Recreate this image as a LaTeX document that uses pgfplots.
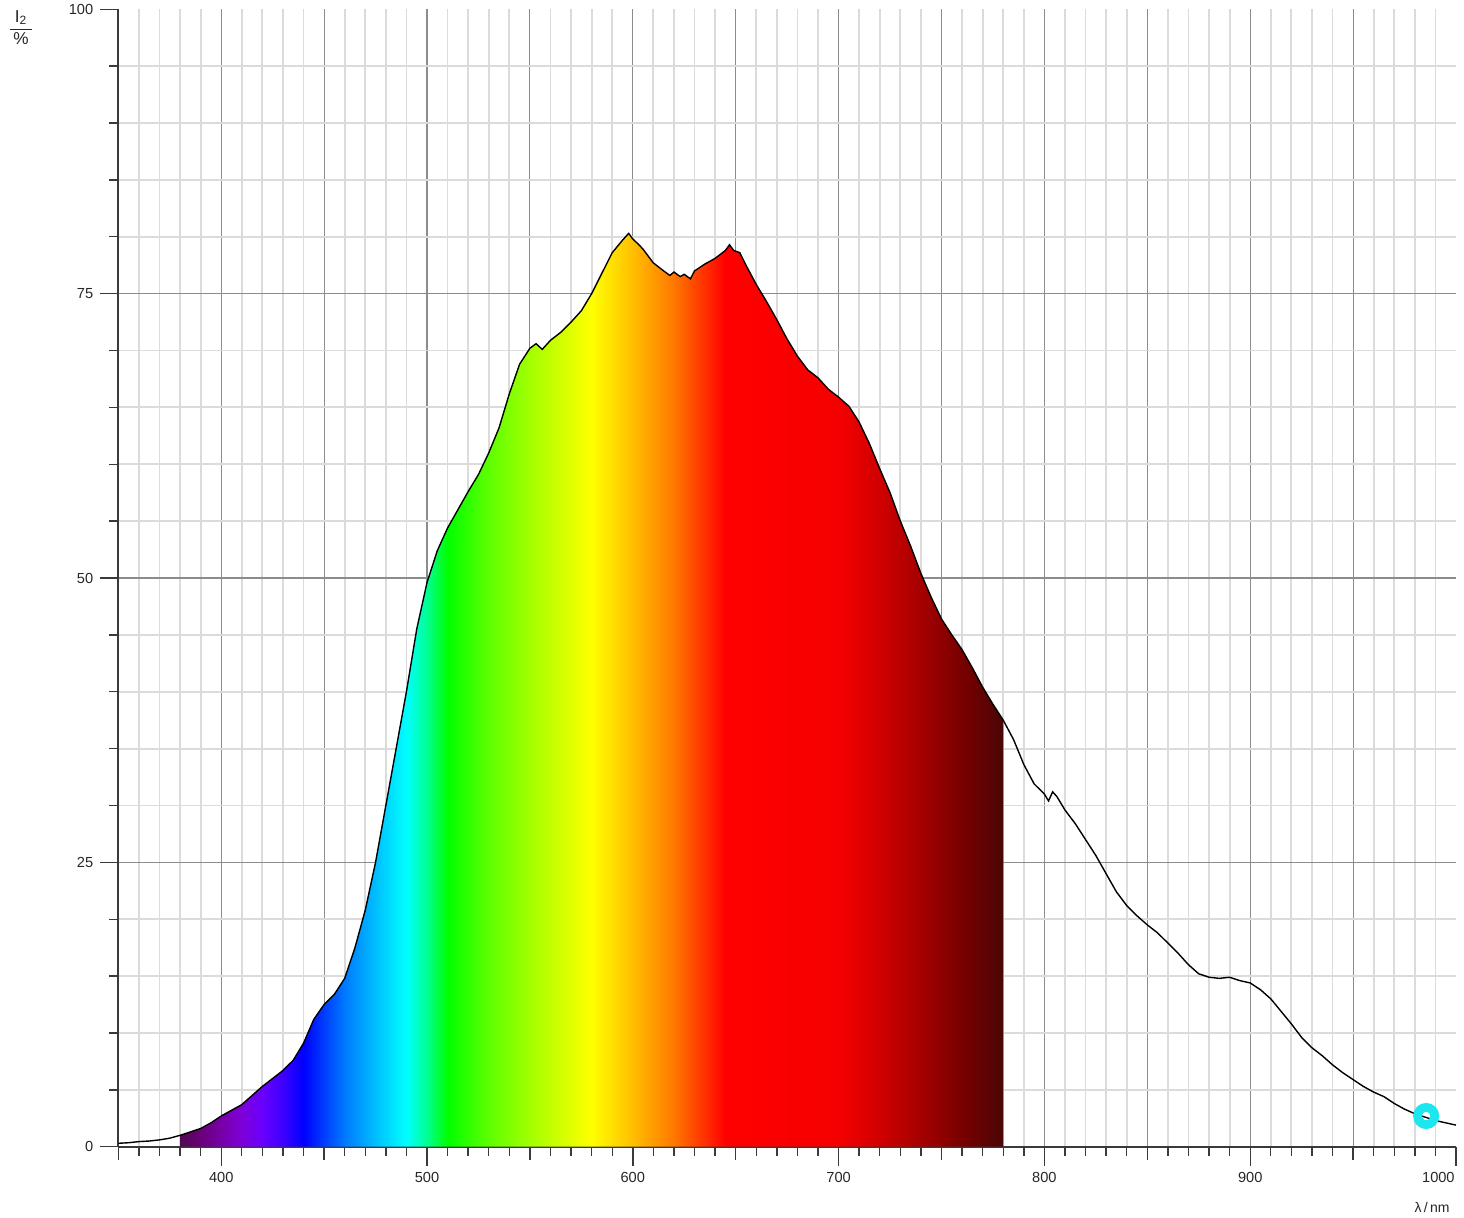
\documentclass[border=0pt]{standalone}
\usepackage{fontspec}
\setmainfont{Liberation Sans}
\usepackage{pgfplots}
\usepackage{pgfplotstable}
\pgfplotsset{compat=1.18}

% spectrum colours, 380 nm ... 780 nm
\definecolor{s380}{HTML}{500A50}
\definecolor{s390}{HTML}{6A0078}
\definecolor{s400}{HTML}{7800A8}
\definecolor{s410}{HTML}{7E00D8}
\definecolor{s420}{HTML}{6A00FF}
\definecolor{s430}{HTML}{3D00FF}
\definecolor{s440}{HTML}{0000FF}
\definecolor{s460}{HTML}{007AFF}
\definecolor{s480}{HTML}{00D5FF}
\definecolor{s490}{HTML}{00FFFF}
\definecolor{s500}{HTML}{00FF92}
\definecolor{s510}{HTML}{00FF00}
\definecolor{s530}{HTML}{5EFF00}
\definecolor{s550}{HTML}{A3FF00}
\definecolor{s580}{HTML}{FFFF00}
\definecolor{s600}{HTML}{FFBE00}
\definecolor{s620}{HTML}{FF7700}
\definecolor{s645}{HTML}{FF0000}
\definecolor{s700}{HTML}{F50000}
\definecolor{s720}{HTML}{D00000}
\definecolor{s740}{HTML}{A50000}
\definecolor{s760}{HTML}{780000}
\definecolor{s780}{HTML}{4A0505}
\definecolor{ringcyan}{HTML}{1CE6EE}
\definecolor{axisgray}{HTML}{3A3A3A}

% the filled path spans 380..780 nm, which tikz maps to 25bp..75bp
\pgfdeclarehorizontalshading{spectrum}{100bp}{%
  color(0bp)=(s380); color(25bp)=(s380); color(26.25bp)=(s390);
  color(27.5bp)=(s400); color(28.75bp)=(s410); color(30bp)=(s420);
  color(31.25bp)=(s430); color(32.5bp)=(s440); color(35bp)=(s460);
  color(37.5bp)=(s480); color(38.75bp)=(s490); color(40bp)=(s500);
  color(41.25bp)=(s510); color(43.75bp)=(s530); color(46.25bp)=(s550);
  color(50bp)=(s580); color(52.5bp)=(s600); color(55bp)=(s620);
  color(58.125bp)=(s645); color(65bp)=(s700); color(67.5bp)=(s720);
  color(70bp)=(s740); color(72.5bp)=(s760); color(75bp)=(s780);
  color(100bp)=(s780)}

\pgfplotstableread{
nm    val
350   0.3
355   0.35
360   0.45
365   0.5
370   0.6
375   0.75
380   1.0
385   1.3
390   1.6
395   2.1
400   2.7
405   3.2
410   3.7
415   4.5
420   5.3
425   6.0
430   6.7
435   7.6
440   9.1
445   11.2
450   12.5
455   13.4
460   14.8
465   17.5
470   20.8
475   25.0
480   30.0
485   35.0
490   40.0
495   45.5
500   49.6
505   52.4
510   54.4
515   56.0
520   57.6
525   59.1
530   61.0
535   63.2
540   66.2
545   68.8
550   70.2
553   70.6
556   70.1
560   70.9
565   71.6
570   72.5
575   73.5
580   75.0
585   76.8
590   78.6
595   79.7
598   80.3
600   79.8
603   79.3
605   78.9
610   77.7
615   77.0
618   76.6
620   76.9
623   76.5
625   76.7
628   76.3
630   77.0
635   77.6
640   78.1
645   78.8
647   79.3
649   78.8
652   78.6
655   77.5
660   75.8
665   74.3
670   72.7
675   71.0
680   69.5
685   68.3
690   67.6
695   66.6
700   65.9
705   65.1
710   63.7
715   61.8
720   59.6
725   57.5
730   55.0
735   52.8
740   50.4
745   48.3
750   46.4
755   45.0
760   43.7
765   42.1
770   40.4
775   38.9
780   37.5
785   35.8
790   33.6
795   31.9
800   31.0
802   30.4
804   31.2
806   30.8
810   29.6
815   28.4
820   27.0
825   25.6
830   24.0
835   22.4
840   21.2
845   20.3
850   19.5
855   18.8
860   17.9
865   17.0
870   16.0
875   15.2
880   14.9
885   14.8
890   14.9
895   14.6
900   14.4
905   13.8
910   13.0
915   11.9
920   10.8
925   9.6
930   8.7
935   8.0
940   7.2
945   6.5
950   5.9
955   5.3
960   4.8
965   4.4
970   3.8
975   3.3
980   2.9
985   2.6
990   2.3
995   2.1
1000  1.9
}\spec

\begin{document}
\begin{tikzpicture}
\begin{axis}[
  scale only axis,
  width=668.85pt, height=568.7pt,
  xmin=350, xmax=1000, ymin=0, ymax=100,
  axis lines*=left,
  axis line style={axisgray, line width=1pt},
  tick style={axisgray, line width=0.7pt},
  tick align=outside,
  major tick length=6.5pt,
  minor tick length=4.5pt,
  xtick={350,400,...,950}, xticklabels={},
  minor xtick={360,370,380,390,410,420,430,440,460,470,480,490,
    510,520,530,540,560,570,580,590,610,620,630,640,660,670,680,690,
    710,720,730,740,760,770,780,790,810,820,830,840,860,870,880,890,
    910,920,930,940,960,970,980,990},
  extra x ticks={400,500,...,1000},
  extra x tick labels={400,500,600,700,800,900,{}},
  extra x tick style={major tick length=9.5pt, grid=none},
  ytick={0,25,50,75}, yticklabels={},
  minor ytick={5,10,15,20,30,35,40,45,55,60,65,70,80,85,90,95},
  extra y ticks={0,25,50,75,100},
  extra y tick style={major tick length=9pt, grid=none},
  grid=both,
  major grid style={black!45, line width=0.55pt},
  minor grid style={black!14, line width=0.9pt},
  tick label style={font=\fontsize{7.3}{8}\selectfont, text=black!85},
  /pgf/number format/assume math mode=true,
  /pgf/number format/1000 sep={},
]
\addplot[draw=none, shading=spectrum, restrict x to domain=380:780]
  table[x=nm, y=val] {\spec} \closedcycle;
\addplot[only marks, mark=o, mark size=4.3pt,
  mark options={draw=ringcyan, line width=4.4pt}] coordinates {(985.5,2.7)};
\addplot[black, line width=0.7pt] table[x=nm, y=val] {\spec};
\coordinate (ll) at (rel axis cs:0,0);
\coordinate (ul) at (rel axis cs:0,1);
\coordinate (lr) at (rel axis cs:1,0);
\coordinate (ur) at (rel axis cs:1,1);
\end{axis}
% last x label sits left of its tick, as in the original
\node[font=\fontsize{7.3}{8}\selectfont, text=black!85, inner sep=0pt,
  anchor=base east] at ([shift={(-0.5pt,-17.7pt)}]lr) {1000};
\node[font=\fontsize{8.6}{9}\selectfont, text=black!85, inner sep=0pt]
  at ([shift={(-48.6pt,-10pt)}]ul)
  {\renewcommand{\arraystretch}{1.15}%
   \begin{tabular}{@{\hspace{1.5pt}}c@{\hspace{1.5pt}}}I\textsubscript{2}\\\hline\%\end{tabular}};
\node[font=\fontsize{7}{8}\selectfont, text=black!85, inner sep=0pt]
  at ([shift={(-12pt,-30.2pt)}]lr) {λ\,/\,nm};
\pgfresetboundingbox
\path[use as bounding box] ([shift={(-59.15pt,-35.15pt)}]ll)
  rectangle ([shift={(4pt,4.65pt)}]ur);
\end{tikzpicture}
\end{document}
